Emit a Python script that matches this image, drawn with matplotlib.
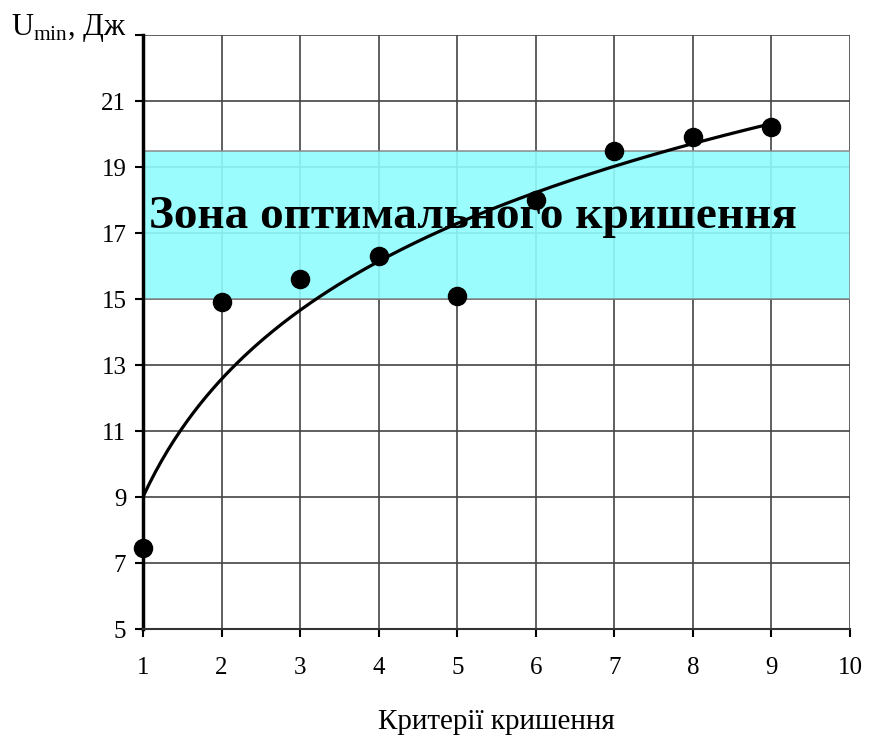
import numpy as np
import matplotlib
matplotlib.use("Agg")
import matplotlib.pyplot as plt

# criterion number vs minimal energy
criteria = [1, 2, 3, 4, 5, 6, 7, 8, 9]
u_min = [7.45, 14.9, 15.6, 16.3, 15.1, 18.0, 19.5, 19.9, 20.2]
zone_low, zone_high = 15.0, 19.5
x_ticks = [1, 2, 3, 4, 5, 6, 7, 8, 9, 10]
y_ticks = [5, 7, 9, 11, 13, 15, 17, 19, 21, 23]
y_labels = ["5", "7", "9", "11", "13", "15", "17", "19", "21", ""]

plt.rcParams['font.family'] = ['Liberation Serif', 'DejaVu Serif']
plt.rcParams['mathtext.fontset'] = 'custom'
plt.rcParams['mathtext.rm'] = 'Liberation Serif'

fig = plt.figure(figsize=(8.69, 7.45), dpi=100)
ax = fig.add_axes([0.1646, 0.1557, 0.8136, 0.7973])

# logarithmic trend line fitted to the points
a, b = np.polyfit(np.log(criteria), u_min, 1)
xs = np.linspace(criteria[0], criteria[-1], 200)
ax.plot(xs, a * np.log(xs) + b, color="black", lw=2.3, zorder=4)

ax.axhspan(zone_low, zone_high, xmin=0, xmax=1, facecolor="#8ffcfc", alpha=0.9,
           edgecolor="#888888", lw=1.2, zorder=2)
ax.scatter(criteria, u_min, s=170, color="black", zorder=5, clip_on=False)

ax.text(1.07, 17.15, "Зона оптимального кришення", fontsize=34, fontweight="bold",
        va="baseline", ha="left", zorder=3)

ax.set_xlim(1, 10)
ax.set_ylim(5, 23)
ax.set_xticks(x_ticks)
ax.set_yticks(y_ticks)
ax.set_yticklabels(y_labels)
ax.grid(True, color="#444444", lw=1.2, zorder=1)
ax.set_axisbelow(True)
for s in ["top", "right"]:
    ax.spines[s].set_visible(False)
ax.spines["left"].set_linewidth(2.5)
ax.spines["bottom"].set_linewidth(1.5)
ax.spines["bottom"].set_color("#333333")
ax.tick_params(axis="both", labelsize=18, length=6, width=1.5)
ax.tick_params(axis="x", pad=14)
ax.tick_params(axis="y", pad=6)

fig.text(0.571, 0.031, "Критерії кришення", fontsize=21, ha="center", va="center")
fig.text(0.013, 0.963, r"U$_{\mathrm{min}}$, Дж", fontsize=22, ha="left", va="center")

fig.savefig("out.png", dpi=100)
